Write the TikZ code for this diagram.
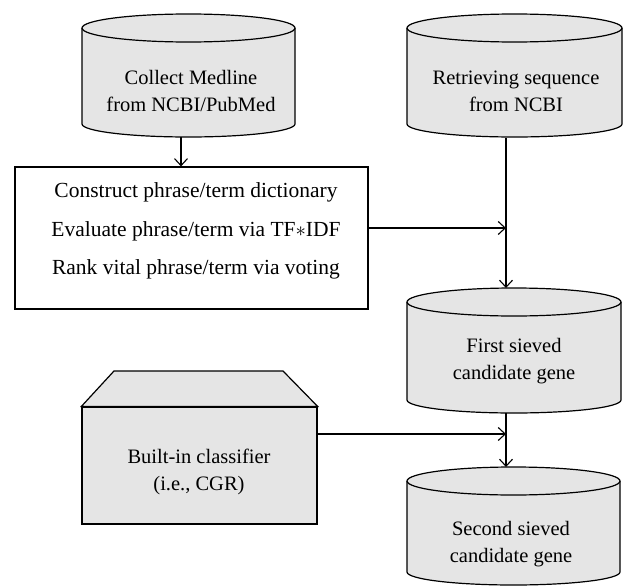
\documentclass[tikz,border=0pt]{standalone}
\usepackage{fontspec}
\setmainfont{Liberation Serif}
\usetikzlibrary{arrows.meta}
\tikzset{
  shapefill/.style={fill=black!10, draw=black, line width=1.2pt},
  conn/.style={draw=black, line width=1.1pt, -{Straight Barb[length=7pt,width=13pt,line width=1.1pt]}},
  cyltext/.style={align=center, font=\fontsize{20.5}{27}\selectfont, inner sep=0pt},
  boxtext/.style={align=center, font=\fontsize{21.5}{38.5}\selectfont, inner sep=0pt},
  framebox/.style={draw=black, line width=1.2pt, inner sep=0pt, fill=white},
  clsbox/.style={shapefill, inner sep=0pt},
}
\newcommand\drawcyl[4]{%
  \pgfmathsetmacro\cylrx{(#2-#1)/2}%
  \path[shapefill] (#1,{-(#3+14)}) -- (#1,{-(#4-13)})
     arc[start angle=180,end angle=360,x radius=\cylrx pt,y radius=13pt]
     -- (#2,{-(#3+14)})
     arc[start angle=0,end angle=180,x radius=\cylrx pt,y radius=14pt] -- cycle;
  \draw[line width=1.2pt] (#1,{-(#3+14)})
     arc[start angle=180,end angle=360,x radius=\cylrx pt,y radius=14pt];
}
\begin{document}
\begin{tikzpicture}[x=1pt,y=1pt]
\useasboundingbox (0,0) rectangle (624,-586);

% cylinders
\drawcyl{82}{295}{14}{137}
\node[cyltext] (t1) at (191,-91) {Collect Medline\\from NCBI/PubMed};
\drawcyl{407}{622}{14}{137}
\node[cyltext] (t2) at (516,-91) {Retrieving sequence\\from NCBI};
\drawcyl{407}{621}{288}{413}
\node[cyltext] (t3) at (514,-361) {First sieved\\candidate gene};
\drawcyl{407}{620}{467}{585}
\node[cyltext] (t4) at (511,-544) {Second sieved\\candidate gene};

% process box
\node[framebox, minimum width=353pt, minimum height=142pt] (box) at (191.5,-238) {};
\node[boxtext] (boxtxt) at (196,-231) {Construct phrase/term dictionary\\Evaluate phrase/term via TF$\ast$IDF\\Rank vital phrase/term via voting};

% classifier
\node[clsbox, minimum width=235pt, minimum height=117pt] (cls) at (199.5,-465.5) {};
\draw[shapefill] (cls.north west) -- (114,-371) -- (283,-371) -- (cls.north east) -- cycle;
\node[cyltext] (clstxt) at (199,-472) {Built-in classifier\\(i.e., CGR)};

% connector points
\coordinate (c1b) at (181,-137);
\coordinate (c2b) at (506,-138);
\coordinate (j1) at (506,-228);
\coordinate (c3t) at (506,-288);
\coordinate (c3b) at (506,-413);
\coordinate (j2) at (506,-434);
\coordinate (c4t) at (506,-467);

\draw[conn] (c1b) -- (c1b |- box.north);
\draw[conn] (c2b) -- (c3t);
\draw[conn] (box.east |- j1) -- (j1);
\draw[conn] (c3b) -- (c4t);
\draw[conn] (cls.east |- j2) -- (j2);
\end{tikzpicture}
\end{document}
